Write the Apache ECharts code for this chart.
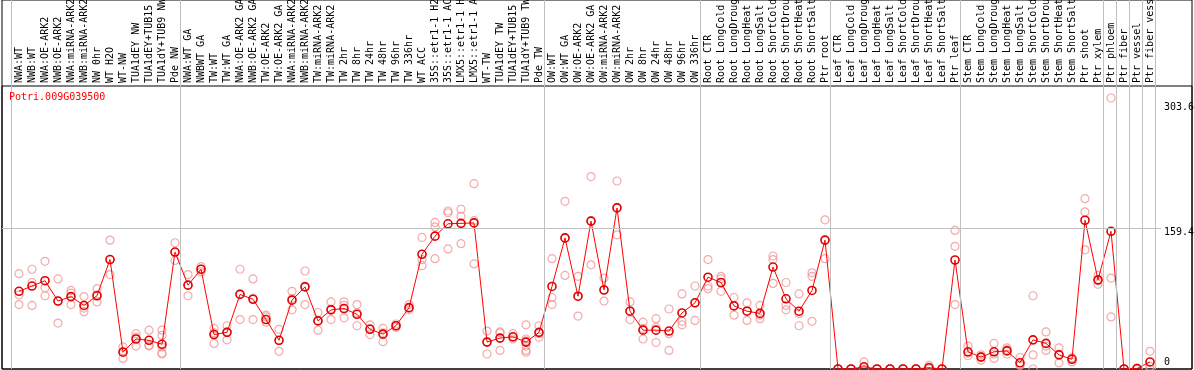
<!DOCTYPE html>
<html><head><meta charset="utf-8">
<script src="https://cdn.jsdelivr.net/npm/echarts@6/dist/echarts.min.js"></script>
<style>html,body{margin:0;padding:0;background:#fff}#c{width:1194px;height:370px}</style>
</head><body><div id="c"></div><script>
const geneName = 'Potri.009G039500';
const categories = [
'NWA:WT','NWB:WT','NWA:OE-ARK2','NWB:OE-ARK2','NWA:miRNA-ARK2','NWB:miRNA-ARK2','NW 0hr','WT H2O','WT-NW','TUA1dEY NW','TUA1dEY+TUB15 NW','TUA1dY+TUB9 NW','Pde NW',
'NWA:WT GA','NWBWT GA','TW:WT','TW:WT GA','NWA:OE-ARK2 GA','NWB:OE-ARK2 GA','TW:OE-ARK2','TW:OE-ARK2 GA','NWA:miRNA-ARK2 GA','NWB:miRNA-ARK2 GA','TW:miRNA-ARK2','TW:miRNA-ARK2 GA',
'TW 2hr','TW 8hr','TW 24hr','TW 48hr','TW 96hr','TW 336hr','WT ACC','35S::etr1-1 H2O','35S::etr1-1 ACC','LMX5::etr1-1 H2O','LMX5::etr1-1 ACC','WT-TW','TUA1dEY TW','TUA1dEY+TUB15 TW','TUA1dY+TUB9 TW','Pde TW',
'OW:WT','OW:WT GA','OW:OE-ARK2','OW:OE-ARK2 GA','OW:miRNA-ARK2','OW:miRNA-ARK2 GA','OW 2hr','OW 8hr','OW 24hr','OW 48hr','OW 96hr','OW 336hr',
'Root CTR','Root LongCold','Root LongDrought','Root LongHeat','Root LongSalt','Root ShortCold','Root ShortDrought','Root ShortHeat','Root ShortSalt','Ptr root',
'Leaf CTR','Leaf LongCold','Leaf LongDrought','Leaf LongHeat','Leaf LongSalt','Leaf ShortCold','Leaf ShortDrought','Leaf ShortHeat','Leaf ShortSalt','Ptr leaf',
'Stem CTR','Stem LongCold','Stem LongDrought','Stem LongHeat','Stem LongSalt','Stem ShortCold','Stem ShortDrought','Stem ShortHeat','Stem ShortSalt','Ptr shoot',
'Ptr xylem','Ptr phloem','Ptr fiber','Ptr vessel','Ptr fiber vessel'];
const means = [88,94,100,77,82,72,83,124,19,34,
32.5,28,132.5,95,113,39,41.5,84.5,79,56,
32.5,78,93,54.5,67,68.5,62,45,39.5,49,
69.5,130,150.5,164.5,165,165.5,30.5,35,36.5,30.5,
41.5,93.5,148.5,82.5,167.5,89.5,182.5,65.5,44,44,
43,63.5,75,104,98,71.5,65.5,63,115.5,79.5,
65.5,89,146,0,0,2.5,0,0,0,0,
1.5,0,123.5,19.5,13.5,19.5,20.5,7,33,29,
16,11,168.5,101,156,0,0.5,8];
const replicates = [
[108,84,73],[113,98,72],[122,92,83],[102,77,52],[89,86,73],[82,69,65],[91,84,76],[146,124,107],[25,20,12],[40,36,26],
[44,27,26],[44,38,25,18,17],[143,132,123],[107,95,83],[116,113,110],[46,41,29],[49,42,33],[113,85,56],[102,80,56],[61,59,53],
[45,32,20],[88,80,67],[111,94,73],[64,55,44],[76,68,56],[76,72,58],[73,64,49],[50,46,39],[46,41,31],[51,49,47],
[73,69,67],[149,124,117],[166,161,125],[179,177,136],[181,173,142],[210,168,119],[43,31,17],[42,41,21],[40,36,34],[50,34,32,26,21,19],
[49,40,36],[125,81,73],[190,148,106],[105,82,60],[218,168,118],[103,90,77],[213,183,152],[76,66,56],[53,46,34],[57,47,30],
[68,40,21],[85,54,50],[94,75,55],[124,94,91],[105,102,88],[81,72,61],[75,66,55],[72,61,57],[128,124,97],[98,72,67],
[85,63,49],[109,105,54],[169,146,125],[0,0,0],[0,0,0],[8,0,0],[0,0,0],[0,0,0],[0,0,0],[0,0,0],
[4,2,0],[0,0,0],[157,139,73],[26,18,15],[16,14,10],[29,17,12],[24,22,17],[13,5,4],[83,16,0],[42,26,21],
[24,17,7],[13,12,8],[193,178,135],[106,100,96],[307,103,59],[0,0,0],[1,0,0],[20,3,0]];
const yTickValues = [0, 159.4, 303.6];
const refLineValue = 159.4;
const groupStarts = [0, 13, 41, 53, 63, 73, 84, 85, 86, 87, 88];

const FONT = 'DejaVu Sans Mono';
const xMin = -17/13, xMax = -17/13 + 1190/13, yMax = 320.6;
const idx = categories.map((_, i) => i);
const repData = [];
replicates.forEach((arr, i) => arr.forEach(v => repData.push([i, v])));
const meanData = means.map((v, i) => [i, v]);
const yMaxTick = Math.max.apply(null, yTickValues);

const chart = echarts.init(document.getElementById('c'), null, {renderer: 'canvas'});
chart.setOption({
  animation: false,
  backgroundColor: '#fff',
  title: {text: geneName, left: 9, top: 92, padding: 0,
    textStyle: {color: '#ff0000', fontSize: 10, fontWeight: 'normal', fontFamily: FONT}},
  grid: [
    {left: 2, right: 2, top: 0, bottom: 1, show: true, borderColor: '#000', borderWidth: 1, backgroundColor: 'transparent',
      containLabel: false, outerBoundsMode: 'none'},
    {left: 2, right: 2, top: 86, bottom: 1, show: true, borderColor: '#000', borderWidth: 1, backgroundColor: 'transparent',
      containLabel: false, outerBoundsMode: 'none'}
  ],
  xAxis: [
    {gridIndex: 0, type: 'value', min: xMin, max: xMax, show: false},
    {gridIndex: 1, type: 'value', min: xMin, max: xMax, position: 'top',
      axisLine: {show: false}, axisTick: {show: false}, splitLine: {show: false},
      axisLabel: {customValues: idx, rotate: 90, margin: 3, fontSize: 10, fontFamily: FONT, color: '#000',
        formatter: v => categories[Math.round(v)] || ''}}
  ],
  yAxis: [
    {gridIndex: 0, type: 'value', min: 0, max: 1, show: false},
    {gridIndex: 1, type: 'value', min: 0, max: yMax, position: 'right', offset: -31,
      axisLine: {show: false}, axisTick: {show: false}, splitLine: {show: false},
      axisLabel: {customValues: yTickValues, margin: 3, align: 'left', color: '#000', fontSize: 10, fontFamily: FONT,
        formatter: v => v === 0 ? '{b|0}' : (v === yMaxTick ? '{m|' + v + '}' : '{t|' + v + '}'),
        rich: {
          b: {fontSize: 10, fontFamily: FONT, color: '#000', padding: [0, 0, 14, 0]},
          t: {fontSize: 10, fontFamily: FONT, color: '#000', padding: [9, 0, 0, 0]},
          m: {fontSize: 10, fontFamily: FONT, color: '#000', padding: [13, 0, 0, 0]}
        }}}
  ],
  series: [
    {type: 'line', xAxisIndex: 0, yAxisIndex: 0, data: [], z: 1, silent: true,
      markLine: {symbol: 'none', silent: true, animation: false, label: {show: false},
        lineStyle: {color: '#c0c0c0', type: 'solid', width: 1},
        data: groupStarts.map(g => ({xAxis: g - 0.6}))}},
    {type: 'line', xAxisIndex: 1, yAxisIndex: 1, data: [], z: 1, silent: true,
      markLine: {symbol: 'none', silent: true, animation: false, label: {show: false},
        lineStyle: {color: '#c0c0c0', type: 'solid', width: 1},
        data: [[{coord: [xMin, refLineValue]}, {coord: [87.85, refLineValue]}]]}},
    {type: 'scatter', xAxisIndex: 1, yAxisIndex: 1, data: repData, z: 3, silent: true,
      symbol: 'circle', symbolSize: 8,
      itemStyle: {color: 'rgba(0,0,0,0)', borderColor: '#f09595', borderWidth: 1.2}},
    {type: 'line', xAxisIndex: 1, yAxisIndex: 1, data: meanData, z: 4, silent: true,
      symbol: 'circle', symbolSize: 8, showAllSymbol: true,
      lineStyle: {color: '#ff0000', width: 1},
      itemStyle: {color: 'rgba(0,0,0,0)', borderColor: '#e00000', borderWidth: 1.6}}
  ]
});
</script></body></html>
